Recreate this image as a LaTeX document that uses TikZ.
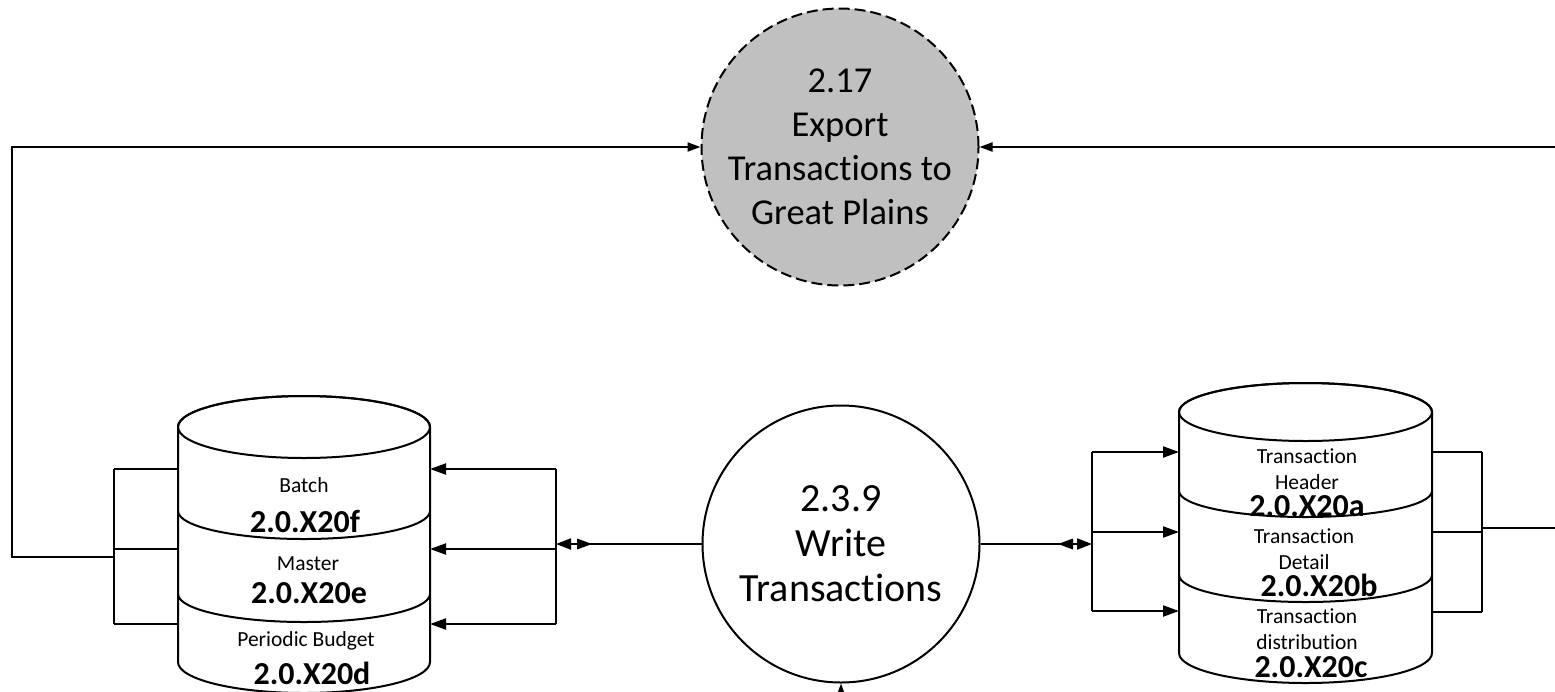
\documentclass[tikz,border=0pt]{standalone}
\usepackage{fontspec}
\setmainfont{Carlito}[Ligatures={NoCommon}]
\usetikzlibrary{arrows.meta}
\definecolor{procgray}{RGB}{192,192,192}
\begin{document}
\begin{tikzpicture}[x=1pt,y=-1pt,
  line width=2pt,
  arr/.style={-{Triangle[length=16pt,width=11pt]}},
  sarr/.style={-{Triangle[length=13pt,width=9pt]}},
  lbl/.style={font=\fontsize{21.5}{26}\selectfont, align=center, inner sep=0pt},
  code/.style={font=\fontsize{32}{32}\selectfont\bfseries, inner sep=0pt},
  proc/.style={circle, draw, line width=2pt, inner sep=0pt, minimum size=277pt, align=center},
  cyl/.style={draw, fill=white, line width=2pt},
]
\useasboundingbox (0,0) rectangle (1555,691);
\clip (0,0) rectangle (1555,691);
\fill[white] (0,0) rectangle (1555,691);

% processes
\node[proc, fill=procgray, dash pattern=on 11pt off 5pt,
      font=\fontsize{36.5}{44}\selectfont] (tc) at (840,147)
      {2.17\\Export\\Transactions to\\Great Plains};
\node[proc, fill=white, font=\fontsize{40}{45}\selectfont] (mc) at (841,544)
      {2.3.9\\Write\\Transactions};

% left data store stack
\path[cyl] (178,427) -- (178,662)
  arc[start angle=180,end angle=360,x radius=126pt,y radius=31pt]
  -- (430,427)
  arc[start angle=0,end angle=180,x radius=126pt,y radius=31pt] -- cycle;
\draw (304,427) ellipse[x radius=126pt,y radius=31pt];
\draw (178,511) arc[start angle=180,end angle=360,x radius=126pt,y radius=28pt];
\draw (178,594) arc[start angle=180,end angle=360,x radius=126pt,y radius=28pt];

\node[lbl]  (tbatch)  at (304,485) {Batch};
\node[code] (cbatch)  at (305,521) {2.0.X20f};
\node[lbl]  (tmaster) at (308,564) {Master};
\node[code] (cmaster) at (309,593) {2.0.X20e};
\node[lbl]  (tbudget) at (306,641) {Periodic Budget};
\node[code] (cbudget) at (312,673) {2.0.X20d};

% right data store stack
\path[cyl] (1179,412) -- (1179,653)
  arc[start angle=180,end angle=360,x radius=126.5pt,y radius=30pt]
  -- (1432,412)
  arc[start angle=0,end angle=180,x radius=126.5pt,y radius=29pt] -- cycle;
\draw (1305.5,412) ellipse[x radius=126.5pt,y radius=29pt];
\draw (1179,491) arc[start angle=180,end angle=360,x radius=126.5pt,y radius=26pt];
\draw (1179,575) arc[start angle=180,end angle=360,x radius=126.5pt,y radius=27pt];

\node[lbl]  (thead) at (1307,469) {Transaction\\Header};
\node[code] (chead) at (1307,506) {2.0.X20a};
\node[lbl]  (tdet)  at (1304,549) {Transaction\\Detail};
\node[code] (cdet)  at (1319,585) {2.0.X20b};
\node[lbl]  (tdist) at (1307,629) {Transaction\\distribution};
\node[code] (cdist) at (1311,667) {2.0.X20c};

% coordinates on the left stack
\coordinate (l1w) at (178,469); \coordinate (l2w) at (178,549); \coordinate (l3w) at (178,624);
\coordinate (l1e) at (430,469); \coordinate (l2e) at (430,549); \coordinate (l3e) at (430,624);
\coordinate (lb1) at (114,469); \coordinate (lb2) at (114,549); \coordinate (lb3) at (114,624);
\coordinate (lbm) at (114,557);
\coordinate (rb1) at (556,469); \coordinate (rb2) at (556,549); \coordinate (rb3) at (556,624);
\coordinate (rbm) at (556,544);
\coordinate (lx)  at (12,557);  \coordinate (lxt) at (12,147);

% coordinates on the right stack
\coordinate (r1w) at (1179,452); \coordinate (r2w) at (1179,532); \coordinate (r3w) at (1179,611);
\coordinate (r1e) at (1432,452); \coordinate (r2e) at (1432,532); \coordinate (r3e) at (1432,612);
\coordinate (sb1) at (1092,452); \coordinate (sb2) at (1092,532); \coordinate (sb3) at (1092,611);
\coordinate (sbm) at (1092,544);
\coordinate (tb1) at (1482,452); \coordinate (tb2) at (1482,532); \coordinate (tb3) at (1482,612);
\coordinate (tbm) at (1482,528);
\coordinate (rx)  at (1560,528); \coordinate (rxt) at (1560,147);
\coordinate (bx)  at (841,720);

% left stack connectors
\draw (lb1) -- (lb3);
\draw (lb1) -- (l1w); \draw (lb2) -- (l2w); \draw (lb3) -- (l3w);
\draw[sarr] (lbm) -- (lx) -- (lxt) -- (tc.west);
\draw (rb1) -- (rb3);
\draw[arr] (rb1) -- (l1e); \draw[arr] (rb2) -- (l2e); \draw[arr] (rb3) -- (l3e);
\draw[-{Triangle[length=15pt,width=11pt]}] (mc.west) -- (rbm);
\fill (577,538.5) -- (592,544) -- (577,549.5) -- cycle;

% right stack connectors
\draw (sb1) -- (sb3);
\draw[arr] (sb1) -- (r1w); \draw[arr] (sb2) -- (r2w); \draw[arr] (sb3) -- (r3w);
\draw[-{Triangle[length=15pt,width=11pt]}] (mc.east) -- (sbm);
\fill (1073,538.5) -- (1058,544) -- (1073,549.5) -- cycle;
\draw (tb1) -- (tb3);
\draw (r1e) -- (tb1); \draw (r2e) -- (tb2); \draw (r3e) -- (tb3);
\draw (tbm) -- (rx);
\draw[sarr] (rxt) -- (tc.east);

% bottom input
\draw[sarr] (bx) -- (mc.south);
\end{tikzpicture}
\end{document}
